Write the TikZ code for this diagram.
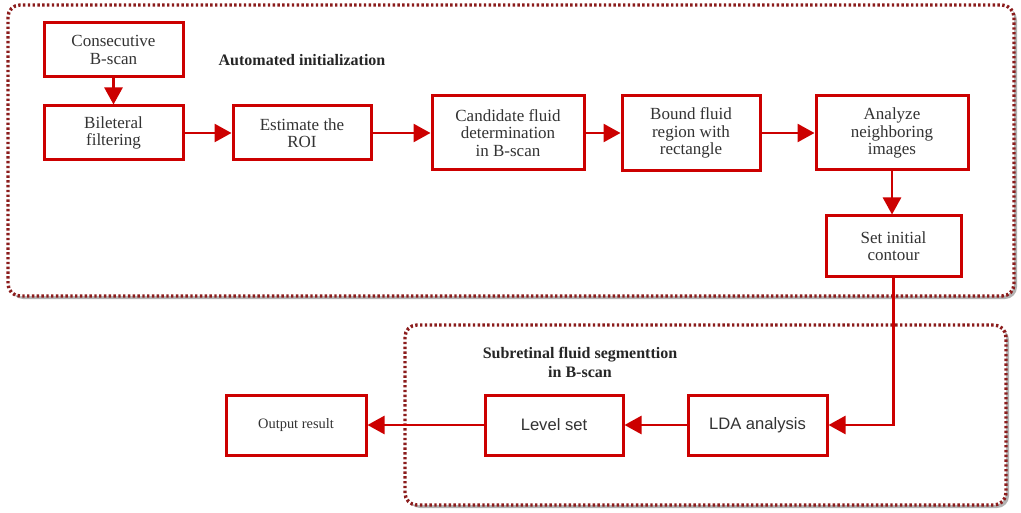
\documentclass[tikz,border=0pt]{standalone}
\usepackage{fontspec}
\setmainfont{Liberation Serif}
\newfontfamily\arialf{Liberation Sans}
\usetikzlibrary{arrows.meta}
\definecolor{rojo}{HTML}{CC0000}
\definecolor{granate}{HTML}{8B1C1C}
\tikzset{
    caja/.style={draw=rojo, line width=1.5pt, fill=white, align=center, inner sep=1pt,
        text=black!80, font=\fontsize{8.5}{8.7}\selectfont},
    flecha/.style={draw=rojo, line width=1.3pt, -{Triangle[length=8.5pt,width=9pt]}},
    marco/.style={draw=granate, line width=1.7pt, dash pattern=on 1.2pt off 1.2pt,
        rounded corners=6pt, fill=white},
    sombra/.style={fill=black!30, rounded corners=6pt},
    titulo/.style={align=center, text=black!85, font=\bfseries\fontsize{8}{9.5}\selectfont},
}
\begin{document}
\begin{tikzpicture}[x=0.5pt,y=-0.5pt]
    \useasboundingbox (0,0) rectangle (1021,513);

    \def\fila{133}
    \def\filab{425}

    %Marcos
    \fill[sombra] (11,8) rectangle (1017,299);
    \draw[marco] (8,5) rectangle (1014,296);
    \fill[sombra] (408,328) rectangle (1009,508);
    \draw[marco] (405,325) rectangle (1006,505);

    %Titulos
    \node[titulo] (t1) at (302,60) {Automated initialization};
    \node[titulo] (t2) at (580,362) {Subretinal fluid segmenttion\\in B-scan};

    %Inicializacion
    \node[caja, minimum width=69.5pt, minimum height=27pt] (b1) at (113.5,50) {Consecutive\\B-scan};
    \node[caja, minimum width=69.5pt, minimum height=27pt] (b2) at (113.5,\fila) {Bileteral\\filtering};
    \node[caja, minimum width=69pt, minimum height=27pt] (b3) at (302,\fila) {Estimate the\\ROI};
    \node[caja, minimum width=76pt, minimum height=37pt] (b4) at (508,\fila) {Candidate fluid\\determination\\in B-scan};
    \node[caja, minimum width=69pt, minimum height=37.5pt] (b5) at (691,\fila) {Bound fluid\\region with\\rectangle};
    \node[caja, minimum width=76pt, minimum height=37pt] (b6) at (892,\fila) {Analyze\\neighboring\\images};
    \node[caja, minimum width=67.5pt, minimum height=30pt] (b7) at (893.5,246) {Set initial\\contour};

    %Segmentacion
    \node[caja, minimum width=69.5pt, minimum height=30pt, font=\arialf\fontsize{8.3}{9}\selectfont] (lda) at (757.5,\filab) {LDA analysis};
    \node[caja, minimum width=69pt, minimum height=30pt, font=\arialf\fontsize{8.3}{9}\selectfont] (lvl) at (554,\filab) {Level set};
    \node[caja, minimum width=70pt, minimum height=30pt, font=\fontsize{7.2}{8}\selectfont] (out) at (296,\filab) {Output result};

    %Flechas
    \draw[flecha] (b1) -- (b2);
    \foreach \x [evaluate={\y=int(\x+1);}] in {2,...,5}{
        \draw[flecha] (b\x) -- (b\y);
    }
    \draw[flecha] (b6.south) -- (b6.south |- b7.north);
    \draw[flecha] (b7.south) |- (lda.east);
    \draw[flecha] (lda) -- (lvl);
    \draw[flecha] (lvl) -- (out);

\end{tikzpicture}
\end{document}
